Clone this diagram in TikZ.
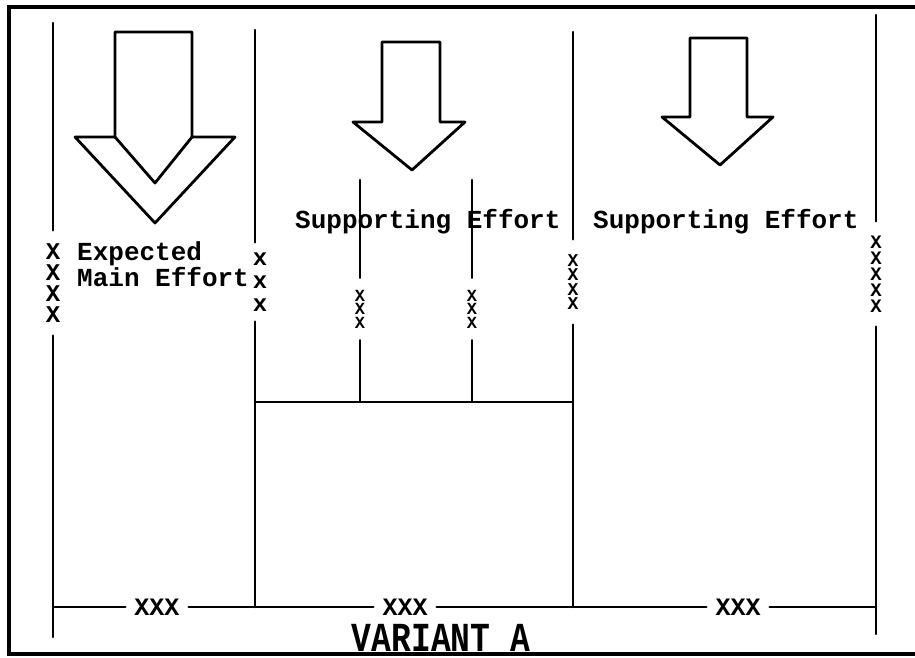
\documentclass[tikz,border=0pt]{standalone}
\usepackage{fontspec}
\setmonofont{Liberation Mono}
\usetikzlibrary{positioning}
\tikzset{
  bar/.style = {line width=2.6pt, line cap=round},
  frame/.style = {line width=3.6pt},
  bigarrow/.style = {line width=2.8pt, line join=round},
  lbl/.style = {font=\ttfamily\bfseries\fontsize{26}{20}\selectfont, inner sep=0pt, align=left},
  xstack/.style = {align=center, inner sep=0pt},
  spanlbl/.style = {font=\ttfamily\bfseries\fontsize{25}{25}\selectfont, fill=white, inner xsep=9pt, inner ysep=0pt},
}

\begin{document}
\begin{tikzpicture}[x=1pt, y=-1pt]
  \useasboundingbox (0,0) rectangle (915,658);
  \draw[frame] (915,7) -- (9,7) -- (9,654) -- (915,654);

  % ends of the lines
  \coordinate (ta) at (53,23);   \coordinate (ba) at (53,637);
  \coordinate (tb) at (255,30);  \coordinate (bb) at (255,607);
  \coordinate (tc) at (573,32);  \coordinate (bc) at (573,607);
  \coordinate (td) at (876,15);  \coordinate (bd) at (876,634);
  \coordinate (te) at (360,180); \coordinate (he) at (360,402);
  \coordinate (tf) at (472,180); \coordinate (hf) at (472,402);
  \coordinate (hb) at (255,402); \coordinate (hc) at (573,402);
  \coordinate (ma) at (53,607);  \coordinate (md) at (876,607);

  % marks on the lines
  \node[xstack, minimum height=105pt, font=\ttfamily\bfseries\fontsize{24}{21}\selectfont] (xa) at (53,283) {X\\X\\X\\X};
  \node[xstack, minimum height=79pt, font=\ttfamily\bfseries\fontsize{24}{23}\selectfont] (xb) at (260,282) {x\\x\\x};
  \node[xstack, minimum height=85pt, font=\ttfamily\bfseries\fontsize{18}{14.5}\selectfont] (xc) at (573,282) {X\\X\\X\\X};
  \node[xstack, minimum height=105pt, font=\ttfamily\bfseries\fontsize{19}{16}\selectfont] (xd) at (876,274) {X\\X\\X\\X\\X};
  \node[xstack, minimum height=62pt, font=\ttfamily\bfseries\fontsize{17}{13.5}\selectfont] (xe) at (360,309) {X\\X\\X};
  \node[xstack, minimum height=62pt, font=\ttfamily\bfseries\fontsize{17}{13.5}\selectfont] (xf) at (472,309) {X\\X\\X};

  \draw[bar] (ta) -- (xa) -- (ba);
  \draw[bar] (tb) -- (xb.north -| tb);
  \draw[bar] (xb.south -| tb) -- (bb);
  \draw[bar] (tc) -- (xc) -- (bc);
  \draw[bar] (td) -- (xd) -- (bd);
  \draw[bar] (te) -- (xe) -- (he);
  \draw[bar] (tf) -- (xf) -- (hf);
  \draw[bar] (hb) -- (hc);

  \node[spanlbl] (wa) at (157,607) {XXX};
  \node[spanlbl] (wb) at (405,607) {XXX};
  \node[spanlbl] (wc) at (738,607) {XXX};
  \draw[bar] (ma) -- (wa) -- (wb) -- (wc) -- (md);

  % arrows
  \draw[bigarrow] (115,32) -- (192,32) -- (192,137) -- (235,137) -- (155,223) -- (75,137) -- (115,137) -- cycle;
  \draw[bigarrow] (115,137) -- (155,183) -- (192,137);
  \draw[bigarrow] (382,42) -- (440,42) -- (440,122) -- (465,122) -- (412,170) -- (353,122) -- (382,122) -- cycle;
  \draw[bigarrow] (690,38) -- (747,38) -- (747,117) -- (773,117) -- (720,165) -- (662,117) -- (690,117) -- cycle;

  % labels
  \node[lbl, anchor=west] (mainlbl) at (77,264) {Expected\\Main Effort};
  \node[lbl, anchor=west] (suplbla) at (295,222) {Supporting Effort};
  \node[lbl, anchor=west] (suplblb) at (593,222) {Supporting Effort};
  \node[font=\ttfamily\bfseries\fontsize{33}{33}\selectfont, inner sep=0pt, anchor=base] (title) at (441,651) {\scalebox{1}[1.25]{VARIANT A}};
\end{tikzpicture}
\end{document}
